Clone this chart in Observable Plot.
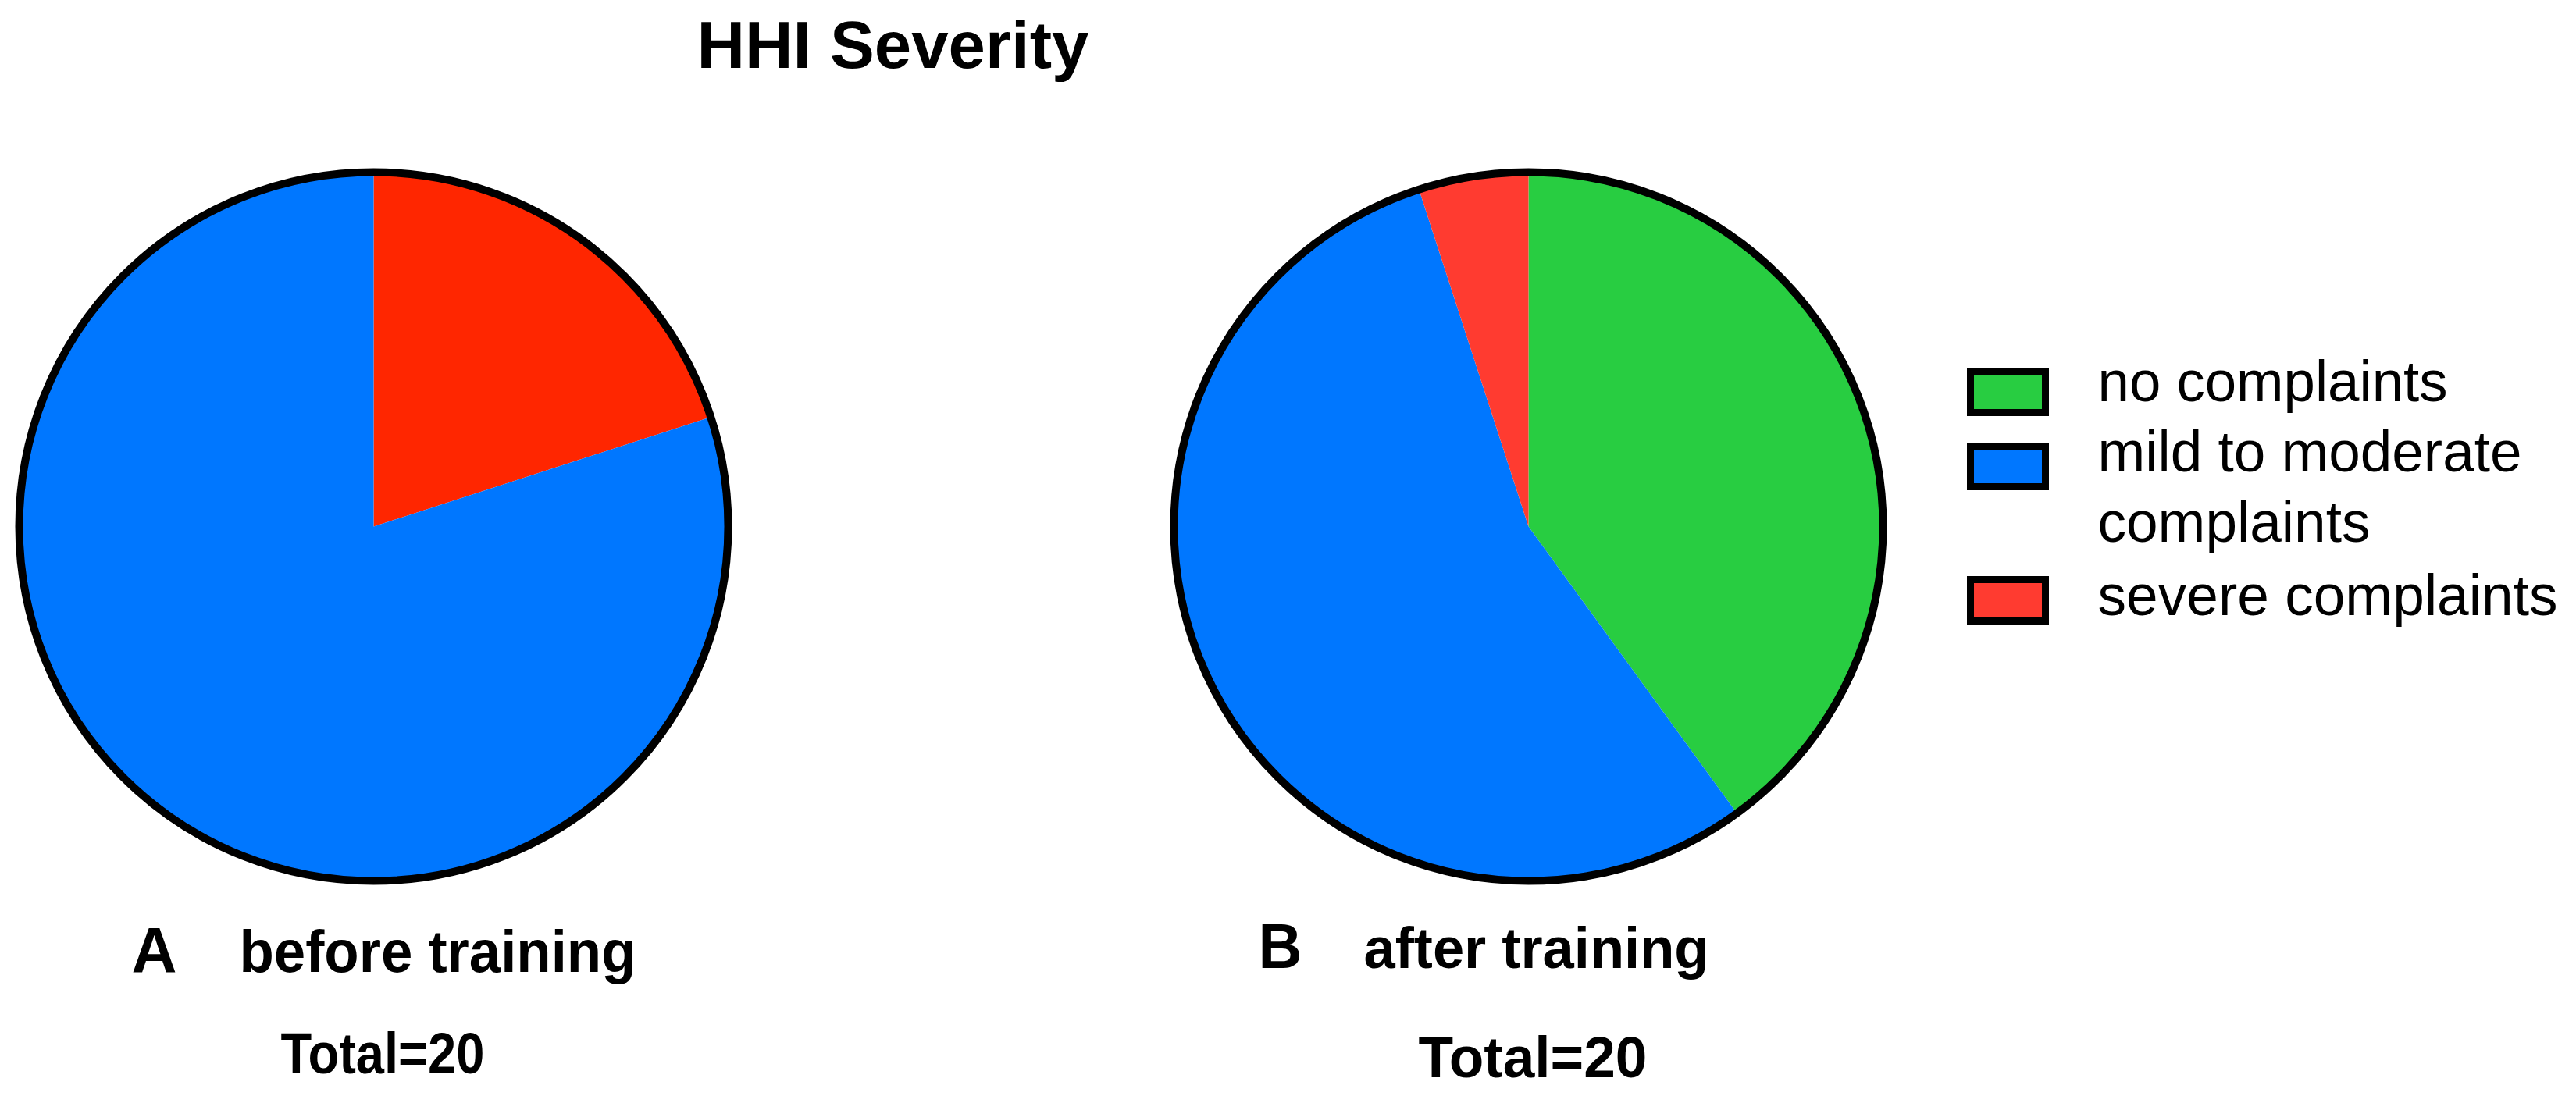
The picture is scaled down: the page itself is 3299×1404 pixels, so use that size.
<!DOCTYPE html>
<html>
<head>
<meta charset="utf-8">
<script src="https://cdn.jsdelivr.net/npm/d3@7"></script>
<script src="https://cdn.jsdelivr.net/npm/@observablehq/plot@0.6"></script>
<style>
  html, body { margin: 0; padding: 0; background: #fff; }
  #chart svg { display: block; }
</style>
</head>
<body>
<div id="chart"></div>
<script>
// ---------- DATA ----------
const chartTitle = "HHI Severity";
const categories = ["no complaints", "mild to moderate complaints", "severe complaints"];
const legendLabels = ["no complaints", "mild to moderate\ncomplaints", "severe complaints"];
const panelLetters = ["A", "B"];
const panelNames = ["before training", "after training"];
const totals = [20, 20];
// counts per category (same order as categories)
const beforeCounts = [0, 16, 4];
const afterCounts = [8, 11, 1];
// clockwise slice order from 12 o'clock, as drawn in each pie (indices into categories)
const beforeOrder = [2, 1, 0];
const afterOrder = [0, 1, 2];

// ---------- STYLE / LAYOUT ----------
const W = 3299, H = 1404;
const legendColors = ["#28CD41", "#0077FF", "#FF3B30"];
const pieColors = [
  ["#28CD41", "#0077FF", "#FF2600"],
  ["#28CD41", "#0077FF", "#FF3B30"]
];
const pieLayout = [{cx: 478, cy: 674}, {cx: 1957, cy: 674}];
const R = 454;
const outlineWidth = 10;

// ---------- BUILD ROWS ----------
function sliceRows(p, counts, order) {
  const {cx, cy} = pieLayout[p];
  const vals = order.map(i => counts[i]);
  const arcs = d3.pie().sort(null).value(d => d)(vals);
  const rows = [];
  arcs.forEach((a, j) => {
    const span = a.endAngle - a.startAngle;
    if (span <= 0) return;
    const cat = order[j];
    const key = p + "-" + cat;
    const color = pieColors[p][cat];
    rows.push({key, color, x: cx, y: cy});
    const steps = Math.max(2, Math.ceil(span / (Math.PI / 360)));
    for (let k = 0; k <= steps; k++) {
      const t = a.startAngle + span * k / steps;
      rows.push({key, color, x: cx + R * Math.sin(t), y: cy - R * Math.cos(t)});
    }
    rows.push({key, color, x: cx, y: cy});
  });
  return rows;
}
const slices = [
  ...sliceRows(0, beforeCounts, beforeOrder),
  ...sliceRows(1, afterCounts, afterOrder)
];

const boldLayout = [
  {x: 892, y: 86, size: 86, w: 502},     // title
  {x: 168, y: 1244, size: 82, w: 58},    // A
  {x: 306, y: 1244, size: 76, w: 508},   // before training
  {x: 359, y: 1374, size: 74, w: 261},   // Total A
  {x: 1611, y: 1239, size: 82, w: 56},   // B
  {x: 1746, y: 1239, size: 74, w: 442},  // after training
  {x: 1816, y: 1379, size: 74, w: 293}   // Total B
];
const boldTextsContent = [
  chartTitle,
  panelLetters[0], panelNames[0], `Total=${totals[0]}`,
  panelLetters[1], panelNames[1], `Total=${totals[1]}`
];
const boldTexts = boldTextsContent.map((t, i) => ({text: t, ...boldLayout[i]}));

const legendBoxes = [
  {y1: 476.5, y2: 528.5},
  {y1: 571.5, y2: 623.5},
  {y1: 742.5, y2: 795.5}
];
const legendBoxX = {x1: 2523.5, x2: 2619.5};
const legendRows = legendLabels.map((t, i) => ({
  label: t, color: legendColors[i],
  x1: legendBoxX.x1, x2: legendBoxX.x2, y1: legendBoxes[i].y1, y2: legendBoxes[i].y2
}));
// each legend line as its own text (baselines and fitted widths are layout)
const legendLineLayout = [
  {y: 513, w: 448}, {y: 603, w: 543}, {y: 693, w: 349}, {y: 787, w: 589}
];
const legendLines = legendLabels.flatMap(t => t.split("\n"))
  .map((t, i) => ({text: t, x: 2686, ...legendLineLayout[i]}));

// ---------- PLOT ----------
const plot = Plot.plot({
  width: W, height: H,
  margin: 0,
  x: {domain: [0, W], axis: null},
  y: {domain: [H, 0], axis: null},
  color: {type: "identity"},
  style: {fontFamily: "'Liberation Sans', Arial, Helvetica, sans-serif", background: "#fff", overflow: "visible"},
  marks: [
    Plot.line(slices, {x: "x", y: "y", z: "key", fill: "color", stroke: null, curve: "linear-closed"}),
    Plot.dot(pieLayout, {x: "cx", y: "cy", r: R, fill: "none", stroke: "black", strokeWidth: outlineWidth}),
    Plot.rect(legendRows, {x1: "x1", x2: "x2", y1: "y1", y2: "y2", fill: "color", stroke: "black", strokeWidth: 9}),
    Plot.text(legendLines, {x: "x", y: "y", text: "text", textAnchor: "start", lineAnchor: "bottom",
      fontSize: 74, fill: "black"}),
    Plot.text(boldTexts, {x: "x", y: "y", text: "text", textAnchor: "start", lineAnchor: "bottom",
      fontSize: "size", fontWeight: "bold", fill: "black"})
  ]
});
document.getElementById("chart").appendChild(plot);

// fit texts to measured widths
const allTexts = Array.from(plot.querySelectorAll("text"));
const fitted = [...legendLines, ...boldTexts];
const textEls = allTexts.slice(allTexts.length - fitted.length);
textEls.forEach((el, i) => {
  const w = fitted[i].w;
  if (w) {
    el.setAttribute("textLength", w);
    el.setAttribute("lengthAdjust", "spacingAndGlyphs");
  }
});
</script>
</body>
</html>
